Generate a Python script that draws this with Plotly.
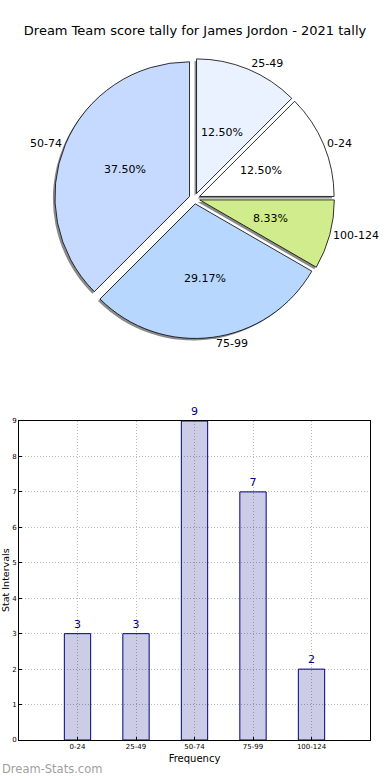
import plotly.graph_objects as go

# ---- data ----
categories = ["0-24", "25-49", "50-74", "75-99", "100-124"]
counts = [3, 3, 9, 7, 2]
pie_colors = ["#ffffff", "#eaf1ff", "#c6d9ff", "#b7d7ff", "#d0ec8c"]
title_text = "Dream Team score tally for James Jordon - 2021 tally"
y_ticks = [0, 1, 2, 3, 4, 5, 6, 7, 8, 9]

W, H = 390, 780

def px_dom_x(a, b):
    return [a / W, b / W]

def px_dom_y(top, bottom):
    return [1 - bottom / H, 1 - top / H]

cx, cy, half = 194.5, 198.5, 140
pull = [0.04] * len(counts)
rot = 45
pct = "%{percent:.2%}"
big = [v >= 5 for v in counts]

fig = go.Figure()

def dom(h, dx=0, dy=0):
    return dict(x=px_dom_x(cx - h + dx, cx + h + dx), y=px_dom_y(cy - h + dy, cy + h + dy))

common = dict(labels=categories, values=counts, sort=False, direction="counterclockwise",
              rotation=rot, pull=pull, showlegend=False)

# shadow
fig.add_trace(go.Pie(
    **common,
    marker=dict(colors=["#8a8a8a"] * len(counts), line=dict(width=0)),
    textinfo="none", hoverinfo="skip", domain=dom(half, -2, 2),
))
# main pie (percentages of large slices)
fig.add_trace(go.Pie(
    **common,
    marker=dict(colors=pie_colors, line=dict(color="#000000", width=0.8)),
    texttemplate=[pct if b else "" for b in big], textposition="inside",
    insidetextorientation="horizontal",
    textfont=dict(family="DejaVu Sans", size=11, color="#000000"),
    domain=dom(half),
))
# inner transparent pie (percentages of small slices, nearer the centre)
fig.add_trace(go.Pie(
    **common,
    marker=dict(colors=["rgba(0,0,0,0)"] * len(counts), line=dict(width=0)),
    texttemplate=["" if b else pct for b in big], textposition="inside",
    insidetextorientation="horizontal",
    textfont=dict(family="DejaVu Sans", size=11, color="#000000"),
    hoverinfo="skip", domain=dom(half * 0.7),
))
# category labels outside
fig.add_trace(go.Pie(
    **common,
    marker=dict(colors=["rgba(0,0,0,0)"] * len(counts), line=dict(width=0)),
    texttemplate="%{label}", textposition="outside",
    outsidetextfont=dict(family="DejaVu Sans", size=11, color="#000000"),
    hoverinfo="skip", automargin=False, domain=dom(half),
))

# bar chart
fig.add_trace(go.Bar(
    x=categories, y=counts, width=0.45,
    marker=dict(color="rgba(0,0,128,0.2)", line=dict(color="#000080", width=1)),
    text=[str(v) for v in counts], textposition="outside",
    textfont=dict(family="DejaVu Sans", size=10, color="#000080"),
    cliponaxis=False, showlegend=False,
    xaxis="x", yaxis="y",
))

grid = dict(showgrid=True, gridcolor="#b8b8b8", griddash="1px,2px", gridwidth=1)

fig.update_layout(
    width=W, height=H,
    margin=dict(l=0, r=0, t=0, b=0),
    paper_bgcolor="white", plot_bgcolor="white",
    font=dict(family="DejaVu Sans", color="#000000"),
    uniformtext=dict(minsize=11, mode="show"),
    title=dict(text=title_text, x=0.5, xanchor="center", y=1 - 30 / H, yanchor="middle",
               font=dict(family="DejaVu Sans", size=13, color="#000000")),
    xaxis=dict(
        domain=px_dom_x(19, 370), range=[-1, 5],
        tickmode="array", tickvals=categories, ticktext=categories,
        tickfont=dict(size=7), ticks="inside", ticklen=3, tickcolor="#000",
        showline=True, linecolor="#000", linewidth=1, mirror=True,
        title=dict(text="Frequency", font=dict(size=10), standoff=4),
        zeroline=False, automargin=False, **grid,
    ),
    yaxis=dict(
        domain=px_dom_y(421, 740), range=[0, 9],
        tickmode="array", tickvals=y_ticks,
        tickfont=dict(size=7), ticks="inside", ticklen=3, tickcolor="#000",
        showline=True, linecolor="#000", linewidth=1, mirror=True,
        zeroline=False, automargin=False, **grid,
    ),
    annotations=[
        dict(text="Stat Intervals", textangle=-90, x=5 / W, y=1 - 580 / H,
             xref="paper", yref="paper", xanchor="center", yanchor="middle",
             showarrow=False, font=dict(family="DejaVu Sans", size=9.5, color="#000")),
        dict(text="Dream-Stats.com", x=0, y=1 - 769 / H, xref="paper", yref="paper",
             xanchor="left", yanchor="middle", showarrow=False,
             font=dict(family="DejaVu Sans", size=11.5, color="#a0a0a0")),
    ],
)

fig.write_html("out.html", config={"displayModeBar": False},
               post_script="document.body.style.margin='0px';")
